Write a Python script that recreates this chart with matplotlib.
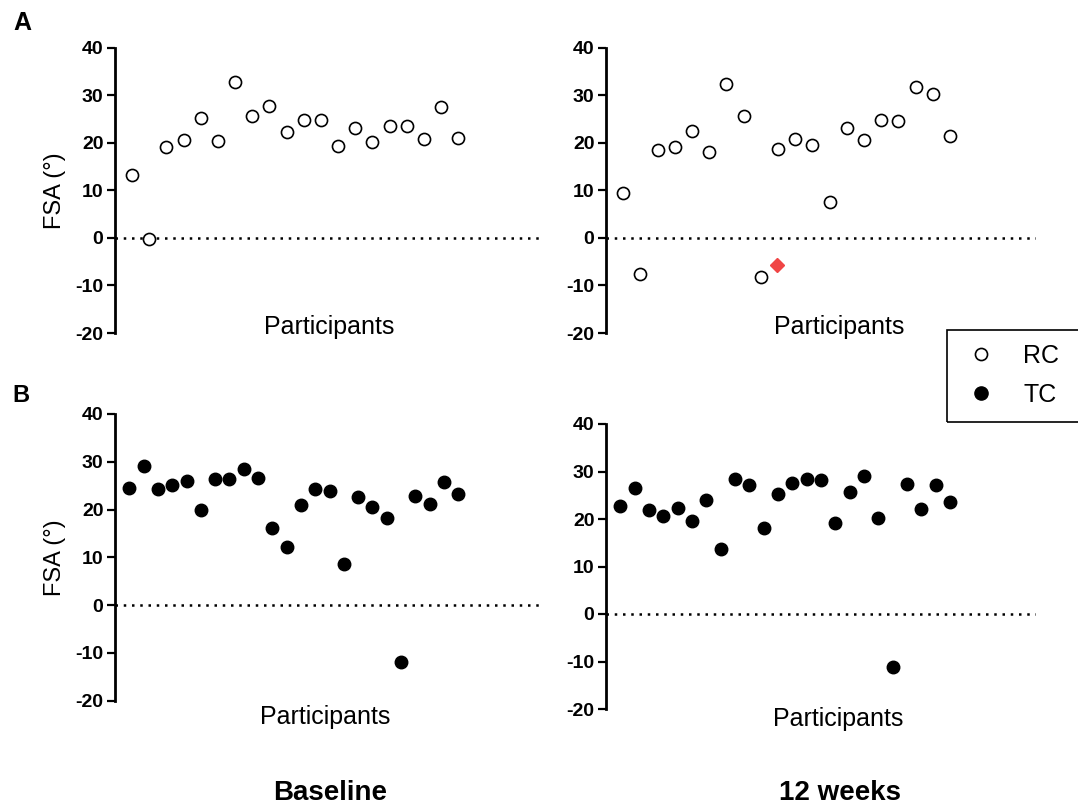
import numpy as np
import matplotlib
matplotlib.use("Agg")
import matplotlib.pyplot as plt
from matplotlib.lines import Line2D
from matplotlib.patches import Rectangle

plt.rcParams['font.family'] = ['Liberation Sans', 'DejaVu Sans']
plt.rcParams['axes.unicode_minus'] = False

# FSA (degrees) for each participant
rc_baseline = [13.1, -0.35, 19.0, 20.6, 25.1, 20.3, 32.8, 25.5, 27.8, 22.2,
               24.8, 24.7, 19.2, 23.1, 20.2, 23.6, 23.4, 20.8, 27.6, 21.0]
rc_12wk = [9.4, -7.5, 18.5, 19.1, 22.5, 18.0, 32.3, 25.5, -8.2, 18.6,
           20.7, 19.5, 7.6, 23.0, 20.6, 24.8, 24.6, 31.8, 30.2, 21.5]
# flagged RC value at 12 weeks (red diamond)
rc_flag_x = [9.94]
rc_flag_y = [-5.7]
tc_baseline = [24.4, 29.1, 24.2, 25.2, 26.0, 19.9, 26.3, 26.4, 28.5, 26.6, 16.1, 12.2,
               21.0, 24.3, 23.9, 8.6, 22.7, 20.6, 18.3, -12.0, 22.8, 21.1, 25.7, 23.3]
tc_12wk = [22.7, 26.5, 22.0, 20.6, 22.4, 19.5, 24.1, 13.6, 28.5, 27.1, 18.2, 25.3,
           27.6, 28.4, 28.3, 19.1, 25.7, 29.1, 20.2, -11.2, 27.3, 22.1, 27.1, 23.6]

W, H = 1078, 807
fig = plt.figure(figsize=(W / 100, H / 100), dpi=100)


def px_rect(x0, x1, ytop, ybot):
    return [x0 / W, 1 - ybot / H, (x1 - x0) / W, (ybot - ytop) / H]


def draw_panel(ax, vals, filled, xmax, ylabel, lab_xy):
    idx = np.arange(1, len(vals) + 1)
    ax.axhline(0, color='black', lw=1.8, ls=(0, (1, 2.3)), zorder=1)
    if filled:
        ax.plot(idx, vals, 'o', ms=9, mfc='black', mec='black', mew=1,
                clip_on=False, zorder=3)
    else:
        ax.plot(idx, vals, 'o', ms=8.7, mfc='white', mec='black', mew=1.2,
                clip_on=False, zorder=3)
    ax.set_xlim(0, xmax)
    ax.set_ylim(-20, 40)
    ax.set_yticks(range(-20, 41, 10))
    ax.set_xticks([])
    for s in ['top', 'right', 'bottom']:
        ax.spines[s].set_visible(False)
    ax.spines['left'].set_linewidth(2.0)
    ax.tick_params(axis='y', direction='out', length=5.5, width=1.6, pad=2.8,
                   labelsize=14)
    for lab in ax.get_yticklabels():
        lab.set_fontweight('bold')
    ax.set_xlabel('Participants', fontsize=18, va='center')
    ax.xaxis.set_label_coords(*lab_xy)
    if ylabel:
        ax.set_ylabel('FSA (°)', fontsize=17, va='center')
        ax.yaxis.set_label_coords(-0.14, 0.5)


ax1 = fig.add_axes(px_rect(115, 544, 47.5, 333))
draw_panel(ax1, rc_baseline, False, 25, True, (0.5, 0.021))

ax2 = fig.add_axes(px_rect(606, 1036, 47.5, 333))
draw_panel(ax2, rc_12wk, False, 25, False, (0.542, 0.021))
ax2.plot(rc_flag_x, rc_flag_y, 'D', ms=7.6, color='#f04545', mec='#f04545',
         zorder=4, clip_on=False)

ax3 = fig.add_axes(px_rect(115, 544, 414, 700.5))
draw_panel(ax3, tc_baseline, True, 30, True, (0.49, -0.058))

ax4 = fig.add_axes(px_rect(606, 1036, 424, 709))
draw_panel(ax4, tc_12wk, True, 30, False, (0.54, -0.035))

# panel letters and time-point titles
fig.text(22 / W, 1 - 23 / H, 'A', fontsize=18, fontweight='bold', ha='center', va='center')
fig.text(21 / W, 1 - 396 / H, 'B', fontsize=17, fontweight='bold', ha='center', va='center')
fig.text(330 / W, 1 - 793 / H, 'Baseline', fontsize=20, fontweight='bold', ha='center', va='center')
fig.text(840 / W, 1 - 793 / H, '12 weeks', fontsize=20, fontweight='bold', ha='center', va='center')

# legend box runs off the right edge
fig.patches.append(Rectangle((947 / W, 1 - 422 / H), 0.2, 92 / H, transform=fig.transFigure,
                             fill=False, ec='black', lw=1.2))
handles = [Line2D([], [], ls='none', marker='o', ms=8.7, mfc='white', mec='black', mew=1.2),
           Line2D([], [], ls='none', marker='o', ms=9.5, mfc='black', mec='black')]
fig.legend(handles, ['RC', 'TC'], loc='center left', bbox_to_anchor=(968 / W, 1 - 375 / H),
           frameon=False, fontsize=18, borderpad=0, borderaxespad=0, handlelength=1.0,
           handletextpad=1.2, labelspacing=0.6)

fig.savefig('out.png', dpi=100)
